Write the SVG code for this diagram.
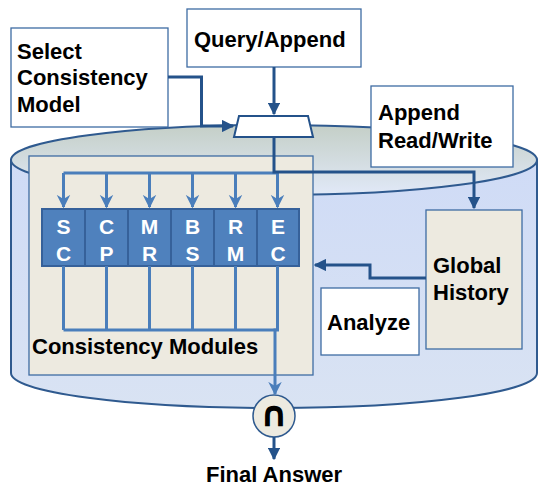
<svg xmlns="http://www.w3.org/2000/svg" width="538" height="487" viewBox="0 0 538 487">
<defs>
<linearGradient id="topg" x1="0" y1="0" x2="0" y2="1">
<stop offset="0" stop-color="#c4cfc7"/>
<stop offset="1" stop-color="#e1e9f8"/>
</linearGradient>
<linearGradient id="bodyg" x1="0" y1="0" x2="0" y2="1">
<stop offset="0" stop-color="#cfdbf6"/>
<stop offset="1" stop-color="#d9e3f3"/>
</linearGradient>
<marker id="ad" viewBox="0 0 10 10" refX="9" refY="5" markerWidth="4.2" markerHeight="4.2" orient="auto" markerUnits="strokeWidth">
<path d="M0,0 L10,5 L0,10 Z" fill="#24528a"/>
</marker>
<marker id="al" viewBox="0 0 10 10" refX="9" refY="5" markerWidth="4.5" markerHeight="5" orient="auto" markerUnits="strokeWidth">
<path d="M0,0 L10,5 L0,10 L3,5 Z" fill="#4a7ebb"/>
</marker>
</defs>
<style>
text{font-family:"Liberation Sans",Arial,sans-serif;font-weight:bold;font-size:22px;fill:#000}
.box{fill:#fff;stroke:#3e6ca3;stroke-width:1.3}
.beige{fill:#edeae0;stroke:#3e6ca3;stroke-width:1.3}
.mod{fill:#4f81bd;stroke:#36619a;stroke-width:2}
.mt{fill:#fff;font-size:21px;text-anchor:middle}
.dk{fill:none;stroke:#24528a;stroke-width:3}
.lt{fill:none;stroke:#4a7ebb;stroke-width:3}
</style>
<g id="cylinder">
<path d="M11,160 L11,373 A263,35 0 0 0 537,373 L537,160 Z" fill="url(#bodyg)" stroke="#2f5a8f" stroke-width="2"/>
<ellipse cx="274" cy="160" rx="263" ry="35" fill="url(#topg)" stroke="#2f5a8f" stroke-width="2"/>
</g>
<g id="panel">
<rect class="beige" x="29" y="156" width="284" height="219"/>
<text x="32" y="354">Consistency Modules</text>
</g>
<g id="modules">
<rect class="mod" x="42" y="209" width="43" height="57"/>
<rect class="mod" x="85" y="209" width="43" height="57"/>
<rect class="mod" x="128" y="209" width="43" height="57"/>
<rect class="mod" x="171" y="209" width="43" height="57"/>
<rect class="mod" x="214" y="209" width="43" height="57"/>
<rect class="mod" x="257" y="209" width="42" height="57"/>
<text class="mt" x="63.5" y="234">S</text><text class="mt" x="63.5" y="261">C</text>
<text class="mt" x="106.5" y="234">C</text><text class="mt" x="106.5" y="261">P</text>
<text class="mt" x="149.5" y="234">M</text><text class="mt" x="149.5" y="261">R</text>
<text class="mt" x="192.5" y="234">B</text><text class="mt" x="192.5" y="261">S</text>
<text class="mt" x="235.5" y="234">R</text><text class="mt" x="235.5" y="261">M</text>
<text class="mt" x="278" y="234">E</text><text class="mt" x="278" y="261">C</text>
</g>
<g id="select">
<rect class="box" x="11" y="28" width="157" height="99"/>
<text x="17" y="59">Select</text>
<text x="17" y="85">Consistency</text>
<text x="17" y="112">Model</text>
</g>
<g id="query">
<rect class="box" x="187" y="9" width="174" height="58"/>
<text x="194" y="47">Query/Append</text>
</g>
<g id="appendrw">
<rect class="box" x="371" y="86" width="142" height="81"/>
<text x="378" y="120">Append</text>
<text x="378" y="148">Read/Write</text>
</g>
<g id="global">
<rect class="beige" x="426" y="210" width="96" height="139"/>
<text x="433" y="273">Global</text>
<text x="433" y="300">History</text>
</g>
<g id="analyze">
<rect class="box" x="321" y="288" width="98" height="67"/>
<text x="327" y="330">Analyze</text>
</g>
<g id="trapezoid">
<path d="M239,116 L308,116 L313,137 L234,137 Z" fill="#fff" stroke="#24528a" stroke-width="2"/>
</g>
<g id="intersect">
<circle cx="274" cy="416" r="21" fill="#edeae0" stroke="#2f5a8f" stroke-width="1.5"/>
<text x="274" y="426" text-anchor="middle" style="font-family:'DejaVu Sans',sans-serif;font-size:35px">∩</text>
</g>
<g id="connectors">
<path class="lt" d="M63.5,173 L276,173"/>
<path class="lt" d="M63.5,173 L63.5,207" marker-end="url(#al)"/>
<path class="lt" d="M106.5,173 L106.5,207" marker-end="url(#al)"/>
<path class="lt" d="M149.5,173 L149.5,207" marker-end="url(#al)"/>
<path class="lt" d="M192.5,173 L192.5,207" marker-end="url(#al)"/>
<path class="lt" d="M235.5,173 L235.5,207" marker-end="url(#al)"/>
<path class="lt" d="M277.5,173 L277.5,207" marker-end="url(#al)"/>
<path class="lt" d="M63.5,266 L63.5,330 M106.5,266 L106.5,330 M149.5,266 L149.5,330 M192.5,266 L192.5,330 M235.5,266 L235.5,330 M63.5,330 L276,330"/>
<path class="lt" d="M277.5,266 L277.5,330 L275,330 L275,394" marker-end="url(#al)"/>
<path class="dk" d="M274,67 L274,114" marker-end="url(#ad)"/>
<path class="dk" d="M168,77 L201.5,77 L201.5,126 L233,126" marker-end="url(#ad)"/>
<path class="dk" d="M274,137 L274,172 L474,172 L474,208" marker-end="url(#ad)"/>
<path class="dk" d="M426,278 L370,278 L370,265 L315,265" marker-end="url(#ad)"/>
<path class="dk" d="M274,437 L274,459" marker-end="url(#ad)"/>
</g>
<g id="final">
<text x="274" y="482" text-anchor="middle" font-size="20">Final Answer</text>
</g>
</svg>
